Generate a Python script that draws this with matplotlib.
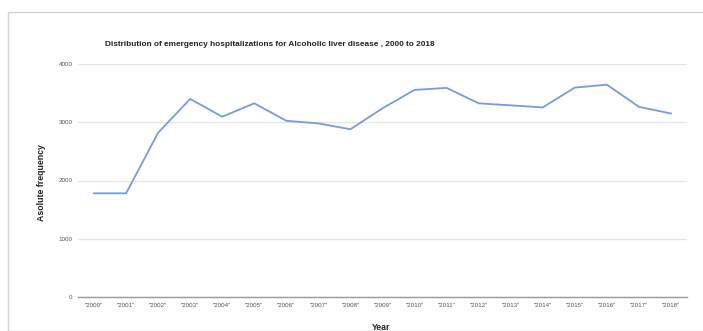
import matplotlib
matplotlib.use("Agg")
import matplotlib.pyplot as plt
from matplotlib.patches import Rectangle

# values
years = ['"2000"', '"2001"', '"2002"', '"2003"', '"2004"', '"2005"', '"2006"',
         '"2007"', '"2008"', '"2009"', '"2010"', '"2011"', '"2012"', '"2013"',
         '"2014"', '"2015"', '"2016"', '"2017"', '"2018"']
counts = [1780, 1780, 2820, 3400, 3095, 3325, 3025, 2980, 2880, 3240,
          3555, 3590, 3325, 3290, 3255, 3595, 3645, 3265, 3150]
yticks = [0, 1000, 2000, 3000, 4000]

plt.rcParams['font.family'] = ['Liberation Sans', 'DejaVu Sans']

fig = plt.figure(figsize=(7.03, 3.31), dpi=100)
fig.patches.append(Rectangle((8 / 703, 0), 1, 1 - 12 / 331, transform=fig.transFigure,
                             fill=False, edgecolor='#d4d4d4', linewidth=1))

ax = fig.add_axes([78 / 703, 1 - 297 / 331, 609 / 703, 233 / 331])
x = range(len(years))
ax.plot(x, counts, color='#739ddf', linewidth=1.3)

ax.set_xlim(-0.5, len(years) - 0.5)
ax.set_ylim(0, 4000)
ax.set_yticks(yticks)
ax.set_yticklabels([str(t) for t in yticks])
ax.set_xticks(list(x))
ax.set_xticklabels(years)
ax.tick_params(axis='both', length=0, labelsize=4.5, labelcolor='#555555')
ax.tick_params(axis='x', pad=4)
ax.tick_params(axis='y', pad=4)

ax.grid(axis='y', color='#e6e6e6', linewidth=0.9)
ax.set_axisbelow(True)
for s in ['top', 'right', 'left']:
    ax.spines[s].set_visible(False)
ax.spines['bottom'].set_color('#999999')
ax.spines['bottom'].set_linewidth(1)

fig.text(270 / 703, 1 - 45 / 331, 'Distribution of emergency hospitalizations for Alcoholic liver disease , 2000 to 2018',
         ha='center', va='center', fontsize=5.95, fontweight='bold', color='#222222')
fig.text(42 / 703, 1 - 183 / 331, 'Asolute frequency', rotation=90, ha='center', va='center',
         fontsize=6.3, fontweight='bold', color='#222222')
fig.text(381 / 703, 1 - 327 / 331, 'Year', ha='center', va='center',
         fontsize=6.3, fontweight='bold', color='#222222')

fig.savefig('out.png', dpi=100)
